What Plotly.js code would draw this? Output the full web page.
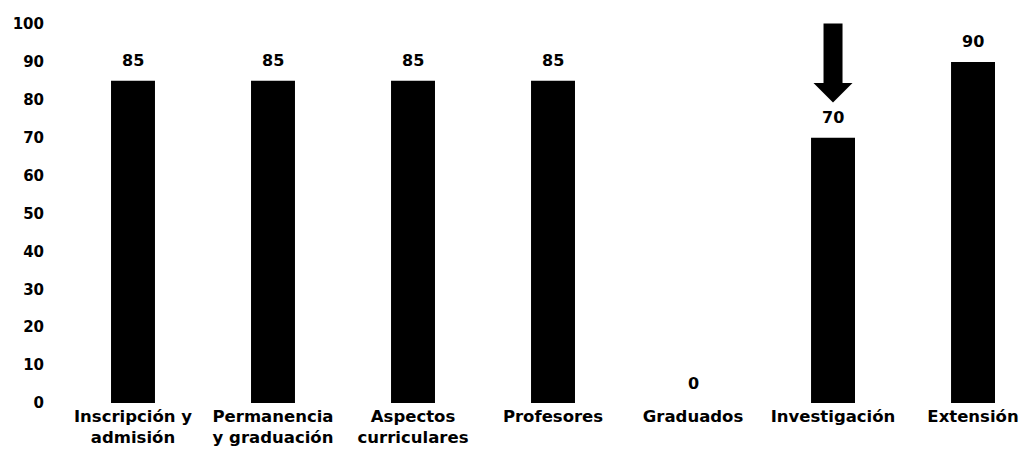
<!DOCTYPE html>
<html>
<head>
<meta charset="utf-8">
<script src="https://cdn.plot.ly/plotly-3.0.1.min.js"></script>
<style>html,body{margin:0;padding:0;background:#fff;}#chart{width:1023px;height:458px;}</style>
</head>
<body>
<div id="chart"></div>
<script>
const categories = ['Inscripción y<br>admisión', 'Permanencia<br>y graduación', 'Aspectos<br>curriculares', 'Profesores', 'Graduados', 'Investigación', 'Extensión'];
const values = [85, 85, 85, 85, 0, 70, 90];
const yTicks = [0, 10, 20, 30, 40, 50, 60, 70, 80, 90, 100];
const arrowIndex = 5;
const arrowTailValue = 100.5;
const arrowShaftEndValue = 83;
const arrowHeadPointValue = 79.3;

const trace = {
  type: 'bar',
  x: categories,
  y: values,
  width: 0.314,
  marker: {color: '#000'},
  hoverinfo: 'skip'
};

const valueLabels = categories.map((c, i) => ({
  x: c, y: values[i], xref: 'x', yref: 'y',
  text: '<b>' + values[i] + '</b>',
  showarrow: false, yshift: 20,
  font: {family: 'DejaVu Sans', size: 16, color: '#000'}
}));

const arrowShaft = {
  x: categories[arrowIndex], y: arrowShaftEndValue, xref: 'x', yref: 'y',
  ax: categories[arrowIndex], ay: arrowTailValue, axref: 'x', ayref: 'y',
  text: '', showarrow: true, arrowhead: 0, arrowwidth: 19,
  arrowcolor: '#000'
};
const arrowHead = {
  x: categories[arrowIndex], y: arrowHeadPointValue, xref: 'x', yref: 'y',
  ax: categories[arrowIndex], ay: 90, axref: 'x', ayref: 'y',
  text: '', showarrow: true, arrowhead: 1, arrowwidth: 1, arrowsize: 6.5,
  arrowcolor: '#000'
};

const layout = {
  width: 1023, height: 458,
  margin: {l: 63, r: 0, t: 24, b: 55},
  paper_bgcolor: '#fff', plot_bgcolor: '#fff',
  showlegend: false,
  font: {family: 'DejaVu Sans', color: '#000', size: 15},
  xaxis: {
    type: 'category',
    range: [-0.5, 6.357],
    showgrid: false, zeroline: false, showline: false,
    ticks: '',
    ticklabelstandoff: 1,
    tickfont: {family: 'DejaVu Sans', size: 16.5, color: '#000', weight: 'bold'}
  },
  yaxis: {
    range: [0, 100],
    tickvals: yTicks,
    showgrid: false, zeroline: false, showline: false,
    ticks: '',
    ticklabelstandoff: 18,
    tickfont: {family: 'DejaVu Sans', size: 15, color: '#000', weight: 'bold'}
  },
  annotations: valueLabels.concat([arrowShaft, arrowHead])
};

Plotly.newPlot('chart', [trace], layout, {displayModeBar: false, staticPlot: true});
</script>
</body>
</html>
